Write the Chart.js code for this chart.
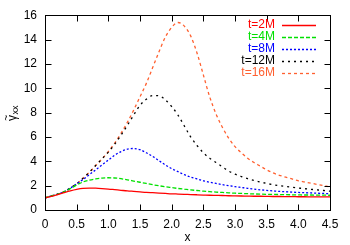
<!DOCTYPE html>
<html><head><meta charset="utf-8">
<script src="https://cdn.jsdelivr.net/npm/chart.js@4"></script>
<style>html,body{margin:0;padding:0;background:#fff}#wrap{width:350px;height:245px}</style>
</head><body>
<div id="wrap"><canvas id="c"></canvas></div>
<script>
const xs = [0,0.1,0.2,0.3,0.4,0.5,0.6,0.7,0.8,0.9,1.0,1.1,1.2,1.3,1.4,1.5,1.6,1.7,1.8,1.9,2.0,2.1,2.2,2.3,2.4,2.5,2.6,2.7,2.8,2.9,3.0,3.1,3.2,3.3,3.4,3.5,3.6,3.7,3.8,3.9,4.0,4.1,4.2,4.3,4.4,4.5];
const t2M = [1.00,1.12,1.27,1.43,1.58,1.70,1.78,1.80,1.79,1.76,1.72,1.67,1.62,1.57,1.53,1.49,1.45,1.42,1.39,1.36,1.33,1.31,1.29,1.27,1.25,1.23,1.21,1.20,1.19,1.17,1.16,1.15,1.14,1.13,1.13,1.12,1.11,1.11,1.10,1.10,1.09,1.09,1.08,1.08,1.07,1.07];
const t4M = [1.00,1.15,1.30,1.50,1.75,2.05,2.30,2.45,2.55,2.62,2.65,2.63,2.57,2.48,2.38,2.28,2.18,2.08,1.99,1.91,1.84,1.77,1.71,1.65,1.60,1.55,1.51,1.47,1.44,1.41,1.38,1.36,1.34,1.32,1.30,1.29,1.28,1.27,1.26,1.25,1.24,1.23,1.23,1.22,1.22,1.21];
const t8M = [1.00,1.15,1.30,1.50,1.80,2.15,2.50,2.90,3.30,3.70,4.10,4.50,4.80,5.00,5.05,4.95,4.70,4.40,4.05,3.70,3.40,3.15,2.90,2.70,2.55,2.40,2.28,2.18,2.08,2.00,1.92,1.85,1.78,1.72,1.66,1.61,1.57,1.53,1.50,1.47,1.44,1.42,1.40,1.38,1.36,1.34];
const t12M = [1.00,1.15,1.30,1.50,1.80,2.15,2.60,3.10,3.65,4.20,4.75,5.40,6.15,6.95,7.80,8.60,9.10,9.40,9.38,9.05,8.50,7.80,6.90,6.00,5.30,4.70,4.25,3.90,3.55,3.20,2.95,2.75,2.57,2.42,2.30,2.18,2.08,2.00,1.93,1.87,1.81,1.75,1.70,1.65,1.60,1.55];
const t16M = [1.00,1.15,1.30,1.50,1.80,2.15,2.60,3.10,3.65,4.20,4.80,5.50,6.30,7.20,8.20,9.30,10.40,11.70,13.00,14.20,15.00,15.40,15.10,14.30,12.90,11.10,9.30,7.90,6.80,5.90,5.20,4.70,4.25,3.90,3.60,3.30,3.05,2.85,2.70,2.55,2.40,2.30,2.20,2.10,2.00,1.90];
const seriesNames = ['t=2M','t=4M','t=8M','t=12M','t=16M'];
const xTicks = [0,0.5,1,1.5,2,2.5,3,3.5,4,4.5];
const yTicks = [0,2,4,6,8,10,12,14,16];

const FONT = '"Liberation Sans", Arial, Helvetica, sans-serif';
const styles = [
  {color:'#ff0000', dash:[]},
  {color:'#00e000', dash:[4,2]},
  {color:'#0000ff', dash:[2,2]},
  {color:'#000000', dash:[2,4]},
  {color:'#ff6030', dash:[3,3]}
];
const series = [t2M,t4M,t8M,t12M,t16M];

Chart.defaults.font.family = FONT;
Chart.defaults.font.size = 12;
Chart.defaults.color = '#000';

const framePlugin = {
  id:'frame',
  afterDatasetsDraw(chart){
    const {ctx, chartArea:a, scales:{x,y}} = chart;
    ctx.save();
    ctx.strokeStyle = '#000';
    ctx.lineWidth = 1;
    ctx.setLineDash([]);
    const L = Math.round(a.left)+0.5, R = Math.round(a.right)+0.5, T = Math.round(a.top)+0.5, B = Math.round(a.bottom)+0.5;
    ctx.strokeRect(L, T, R-L, B-T);
    const tl = 6;
    ctx.beginPath();
    xTicks.forEach(v=>{
      const px = Math.round(x.getPixelForValue(v))+0.5;
      ctx.moveTo(px, B); ctx.lineTo(px, B-tl);
      ctx.moveTo(px, T); ctx.lineTo(px, T+tl);
    });
    yTicks.forEach(v=>{
      const py = Math.round(y.getPixelForValue(v))+0.5;
      ctx.moveTo(L, py); ctx.lineTo(L+tl, py);
      ctx.moveTo(R, py); ctx.lineTo(R-tl, py);
    });
    ctx.stroke();
    // legend
    ctx.font = '12px ' + FONT;
    ctx.textAlign = 'right';
    ctx.textBaseline = 'middle';
    seriesNames.forEach((n,i)=>{
      const yy = 25 + 12*i;
      ctx.fillStyle = styles[i].color;
      ctx.fillText(n, 275, yy);
      ctx.strokeStyle = styles[i].color;
      ctx.lineWidth = 1.3;
      ctx.setLineDash(styles[i].dash);
      ctx.beginPath();
      ctx.moveTo(282, yy+0.5); ctx.lineTo(316, yy+0.5);
      ctx.stroke();
    });
    ctx.setLineDash([]);
    // y title: gamma tilde xx
    ctx.fillStyle = '#000';
    ctx.translate(15.5, 121);
    ctx.rotate(-Math.PI/2);
    ctx.textAlign = 'left';
    ctx.textBaseline = 'alphabetic';
    ctx.font = '12px ' + FONT;
    ctx.fillText('γ', 0, 0);
    const gw = ctx.measureText('γ').width;
    ctx.font = '10px ' + FONT;
    ctx.fillText('~', 0.3, -6);
    ctx.font = '9px ' + FONT;
    ctx.fillText('xx', gw + 0.5, 2.5);
    ctx.restore();
  }
};

new Chart(document.getElementById('c'), {
  type:'line',
  data:{
    datasets: series.map((s,i)=>({
      label: seriesNames[i],
      data: xs.map((x,j)=>({x:x, y:s[j]})),
      borderColor: styles[i].color,
      borderDash: styles[i].dash,
      borderWidth: 1.3,
      pointRadius: 0,
      fill:false,
      cubicInterpolationMode:'monotone'
    }))
  },
  options:{
    responsive:true,
    maintainAspectRatio:false,
    animation:false,
    devicePixelRatio:1,
    layout:{padding:{left:0,right:20,top:14,bottom:0}},
    plugins:{legend:{display:false}, tooltip:{enabled:false}},
    scales:{
      x:{
        type:'linear', min:0, max:4.5,
        afterBuildTicks: s => { s.ticks = xTicks.map(v=>({value:v})); },
        afterFit: s => { s.height = 35; },
        grid:{display:false, drawTicks:false},
        border:{display:false},
        ticks:{padding:7, maxRotation:0, autoSkip:false, font:{size:12}},
        title:{display:true, text:'x', padding:{top:2,bottom:0}, font:{size:12}}
      },
      y:{
        type:'linear', min:0, max:16,
        afterBuildTicks: s => { s.ticks = yTicks.map(v=>({value:v})); },
        afterFit: s => { s.width = 45; },
        grid:{display:false, drawTicks:false},
        border:{display:false},
        ticks:{padding:8, autoSkip:false, font:{size:12}}
      }
    }
  },
  plugins:[framePlugin]
});
</script>
</body></html>
